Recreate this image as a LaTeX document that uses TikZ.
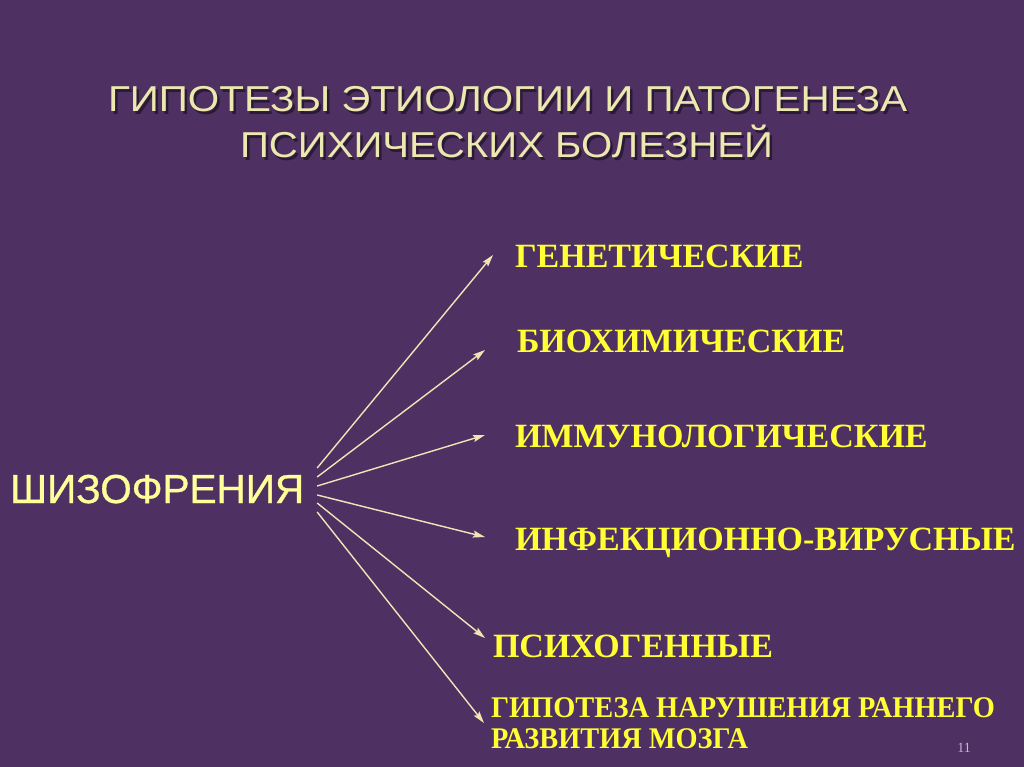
\documentclass[tikz,border=0pt]{standalone}
\usepackage{fontspec}
\usepackage{graphicx}
\setmainfont{Liberation Serif}
\newfontfamily\sansf{Liberation Sans}
\newfontfamily\sansfb[FakeBold=0.8]{Liberation Sans}
\usetikzlibrary{arrows.meta}
\definecolor{bg}{HTML}{4E3162}
\definecolor{titlecol}{HTML}{EDE8B0}
\definecolor{srccol}{HTML}{FFFF99}
\definecolor{labcol}{HTML}{FFFF33}
\definecolor{arrcol}{HTML}{F3E3B5}
\definecolor{numcol}{HTML}{C9B3D9}
\begin{document}
\begin{tikzpicture}[x=1pt,y=-1pt,
  every node/.style={inner sep=0pt, outer sep=0pt},
  titletext/.style={anchor=base west, text=titlecol, font=\sansf\fontsize{36}{40}\selectfont},
  titleshadow/.style={anchor=base west, text=black, text opacity=0.45, font=\sansf\fontsize{36}{40}\selectfont},
  srctext/.style={anchor=base west, text=srccol, font=\sansfb\fontsize{40.5}{44}\selectfont},
  labtext/.style={anchor=base west, text=labcol, font=\bfseries\fontsize{34}{38}\selectfont},
  labsmall/.style={anchor=base west, text=labcol, font=\bfseries\fontsize{30}{36}\selectfont},
  arr/.style={draw=arrcol, line width=1.4pt, -{Stealth[length=12pt,width=7pt,inset=2pt]}}
]
\fill[bg] (0,0) rectangle (1024,767);
\useasboundingbox (0,0) rectangle (1024,767);

% title with shadow
\node[titleshadow] (t1s) at (110.5,114.5) {\resizebox{799pt}{\height}{ГИПОТЕЗЫ ЭТИОЛОГИИ И ПАТОГЕНЕЗА}};
\node[titleshadow] (t2s) at (242.5,160.5) {\resizebox{533pt}{\height}{ПСИХИЧЕСКИХ БОЛЕЗНЕЙ}};
\node[titletext] (t1) at (108,112) {\resizebox{799pt}{\height}{ГИПОТЕЗЫ ЭТИОЛОГИИ И ПАТОГЕНЕЗА}};
\node[titletext] (t2) at (240,158) {\resizebox{533pt}{\height}{ПСИХИЧЕСКИХ БОЛЕЗНЕЙ}};

% source
\node[srctext] (s) at (10,503) {ШИЗОФРЕНИЯ};

% targets
\node[labtext] (g1) at (515,267) {ГЕНЕТИЧЕСКИЕ};
\node[labtext] (g2) at (517,352) {БИОХИМИЧЕСКИЕ};
\node[labtext] (g3) at (515,447) {ИММУНОЛОГИЧЕСКИЕ};
\node[labtext] (g4) at (515,550) {ИНФЕКЦИОННО-ВИРУСНЫЕ};
\node[labtext] (g5) at (493,657) {ПСИХОГЕННЫЕ};
\node[labsmall] (g6) at (491,717) {\resizebox{504pt}{\height}{ГИПОТЕЗА НАРУШЕНИЯ РАННЕГО}};
\node[labsmall] (g6b) at (491,748) {\resizebox{257pt}{\height}{РАЗВИТИЯ МОЗГА}};

% page number
\node[anchor=base, text=numcol, font=\fontsize{14}{16}\selectfont] (pn) at (964,752) {11};

% arrow start points on the source
\coordinate (o1) at ([shift={(13,-35)}]s.base east);
\coordinate (o2) at ([shift={(13,-26)}]s.base east);
\coordinate (o3) at ([shift={(13,-17)}]s.base east);
\coordinate (o4) at ([shift={(13,-8)}]s.base east);
\coordinate (o5) at ([shift={(13,0)}]s.base east);
\coordinate (o6) at ([shift={(13,9)}]s.base east);

\draw[arr] (o1) -- ([shift={(-22,-12)}]g1.base west);
\draw[arr] (o2) -- ([shift={(-32,-2)}]g2.base west);
\draw[arr] (o3) -- ([shift={(-30,-12)}]g3.base west);
\draw[arr] (o4) -- ([shift={(-30,-13)}]g4.base west);
\draw[arr] (o5) -- ([shift={(-8,-19)}]g5.base west);
\draw[arr] (o6) -- ([shift={(-7,6)}]g6.base west);
\end{tikzpicture}
\end{document}
